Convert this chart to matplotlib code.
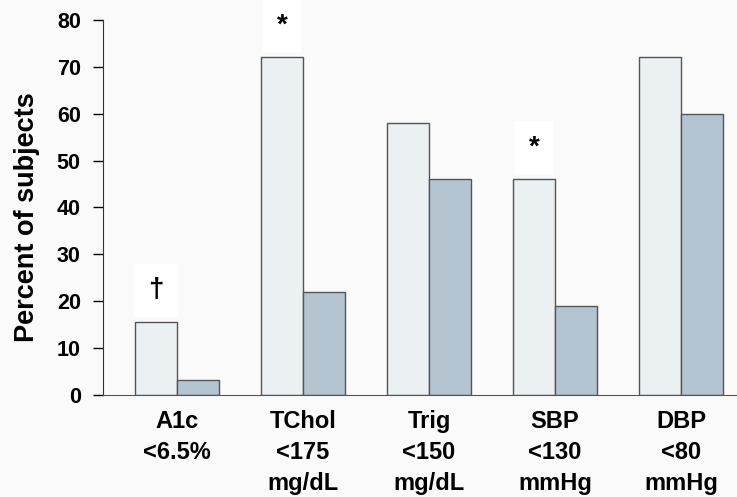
import numpy as np
import matplotlib.pyplot as plt

# Data
categories = ['A1c\n<6.5%', 'TChol\n<175\nmg/dL', 'Trig\n<150\nmg/dL', 'SBP\n<130\nmmHg', 'DBP\n<80\nmmHg']
group_a = [15.5, 72, 58, 46, 72]
group_b = [3.2, 22, 46, 19, 60]
markers = ['\u2020', '*', '', '*', '']

plt.rcParams['font.family'] = ['Liberation Sans', 'DejaVu Sans']
plt.rcParams['font.weight'] = 'bold'

fig = plt.figure(figsize=(7.37, 4.97), dpi=100, facecolor='#fafafa')
ax = fig.add_axes([0.1398, 0.2052, 0.8602, 0.7546])
ax.set_facecolor('#fafafa')

x = np.arange(len(categories))
w = 1 / 3
ax.bar(x - w / 2, group_a, w, color='#ebf0f3', edgecolor='#555555', linewidth=1.0)
ax.bar(x + w / 2, group_b, w, color='#b4c4d1', edgecolor='#555555', linewidth=1.0)

# significance marks above the first bar of each group
for xi, val, m in zip(x, group_a, markers):
    if m:
        ax.text(xi - w / 2, val + 6.8, m, ha='center', va='center', fontsize=20,
                fontweight='bold', clip_on=False,
                bbox=dict(boxstyle='square,pad=0.5', fc='white', ec='none'))

ax.set_xlim(-0.587, 4.444)
ax.set_ylim(0, 80)
ax.set_yticks(range(0, 81, 10))
ax.set_xticks(x)
ax.set_xticklabels(categories, fontsize=17, fontweight='bold', linespacing=1.45)
ax.tick_params(axis='x', length=0, pad=11)
ax.tick_params(axis='y', labelsize=15.5, length=7, width=1, direction='out', pad=9)
for lab in ax.get_yticklabels():
    lab.set_fontweight('bold')

ax.spines['top'].set_visible(False)
ax.spines['right'].set_visible(False)
ax.spines['left'].set_color('#333333')
ax.spines['bottom'].set_color('#555555')

ax.set_ylabel('Percent of subjects', fontsize=19.5, fontweight='bold', labelpad=12)
ax.yaxis.label.set_y(0.475)

fig.savefig('out.png', dpi=100, facecolor=fig.get_facecolor())
